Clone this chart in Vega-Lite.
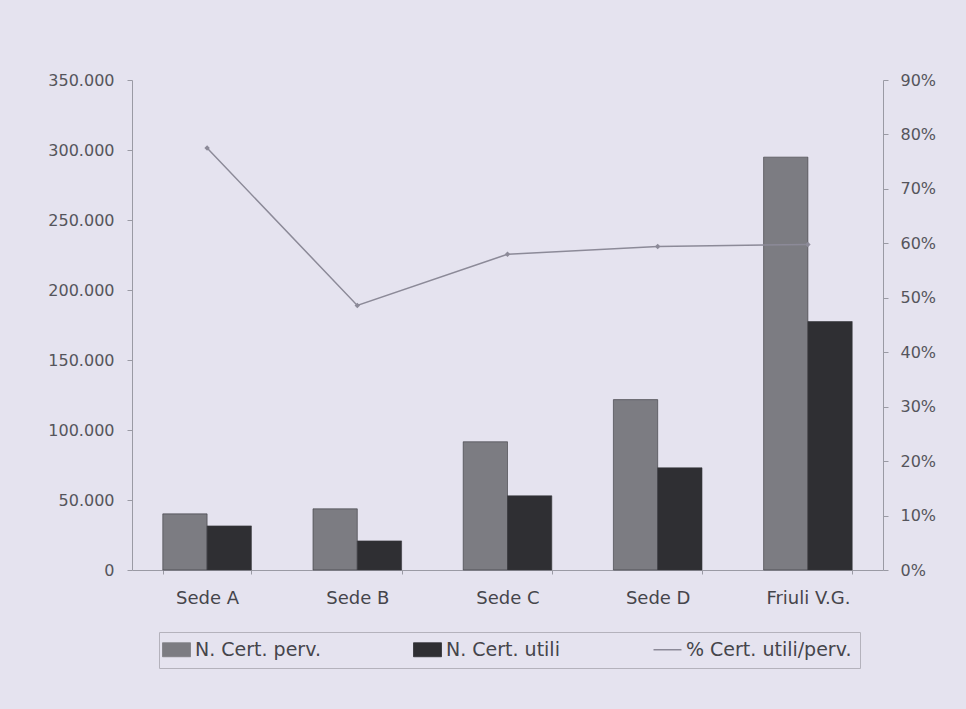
{
  "$schema": "https://vega.github.io/schema/vega-lite/v6.json",
  "width": 751,
  "height": 490,
  "autosize": {"type": "none"},
  "padding": {"left": 132, "top": 80, "right": 83, "bottom": 139},
  "background": "#e5e3ef",
  "config": {
    "view": {"stroke": null},
    "font": "DejaVu Sans",
    "axis": {
      "grid": false,
      "labelFont": "DejaVu Sans",
      "labelFontSize": 16,
      "labelColor": "#55555c",
      "domainColor": "#9a9aa4",
      "tickColor": "#9a9aa4",
      "title": null
    }
  },
  "datasets": {
    "bars": [
      {"sede": "Sede A", "serie": "N. Cert. perv.", "valore": 40100},
      {"sede": "Sede A", "serie": "N. Cert. utili", "valore": 31500},
      {"sede": "Sede B", "serie": "N. Cert. perv.", "valore": 43700},
      {"sede": "Sede B", "serie": "N. Cert. utili", "valore": 20800},
      {"sede": "Sede C", "serie": "N. Cert. perv.", "valore": 91600},
      {"sede": "Sede C", "serie": "N. Cert. utili", "valore": 53000},
      {"sede": "Sede D", "serie": "N. Cert. perv.", "valore": 121700},
      {"sede": "Sede D", "serie": "N. Cert. utili", "valore": 73000},
      {"sede": "Friuli V.G.", "serie": "N. Cert. perv.", "valore": 294900},
      {"sede": "Friuli V.G.", "serie": "N. Cert. utili", "valore": 177500}
    ],
    "pct": [
      {"sede": "Sede A", "pct": 0.775},
      {"sede": "Sede B", "pct": 0.486},
      {"sede": "Sede C", "pct": 0.58},
      {"sede": "Sede D", "pct": 0.594},
      {"sede": "Friuli V.G.", "pct": 0.598}
    ]
  },
  "layer": [
    {
      "data": {"name": "bars"},
      "mark": {"type": "bar", "stroke": "#38383c", "strokeWidth": 0.6},
      "encoding": {
        "x": {
          "field": "sede",
          "type": "nominal",
          "sort": ["Sede A", "Sede B", "Sede C", "Sede D", "Friuli V.G."],
          "scale": {"paddingInner": 0.41, "paddingOuter": 0.205},
          "axis": {
            "labelAngle": 0,
            "labelFontSize": 18,
            "labelColor": "#45454b",
            "labelPadding": 15,
            "ticks": true,
            "tickBand": "extent",
            "tickSize": 4
          }
        },
        "xOffset": {"field": "serie", "sort": ["N. Cert. perv.", "N. Cert. utili"]},
        "y": {
          "field": "valore",
          "type": "quantitative",
          "scale": {"domain": [0, 350000], "nice": false},
          "axis": {
            "values": [0, 50000, 100000, 150000, 200000, 250000, 300000, 350000],
            "labelExpr": "replace(format(datum.value, ','), ',', '.')",
            "tickSize": 5,
            "labelPadding": 13
          }
        },
        "color": {
          "field": "serie",
          "type": "nominal",
          "scale": {
            "domain": ["N. Cert. perv.", "N. Cert. utili", "% Cert. utili/perv."],
            "range": ["#7c7c82", "#2f2f33", "#8c8a98"]
          },
          "legend": {
            "orient": "none",
            "legendX": 27,
            "legendY": 552,
            "direction": "horizontal",
            "title": null,
            "columns": 3,
            "columnPadding": 90,
            "labelFont": "DejaVu Sans",
            "labelFontSize": 19,
            "labelColor": "#45454b",
            "labelLimit": 300,
            "labelOffset": 9,
            "symbolSize": 784,
            "symbolStrokeColor": "#38383c",
            "symbolStrokeWidth": 0.8,
            "strokeColor": "#b4b2bc",
            "padding": 8,
            "symbolType": "M-1,-0.5H1V0.5H-1Z",
            "encode": {
              "symbols": {
                "update": {
                  "shape": {"signal": "datum.value === '% Cert. utili/perv.' ? 'stroke' : 'M-1,-0.5H1V0.5H-1Z'"},
                  "strokeWidth": {"signal": "datum.value === '% Cert. utili/perv.' ? 1.5 : 0.8"},
                  "stroke": {"signal": "datum.value === '% Cert. utili/perv.' ? '#8c8a98' : '#38383c'"}
                }
              }
            }
          }
        }
      }
    },
    {
      "data": {"name": "pct"},
      "mark": {
        "type": "line",
        "strokeWidth": 1.5,
        "point": {"shape": "diamond", "size": 30, "filled": true, "color": "#76747e"}
      },
      "encoding": {
        "x": {"field": "sede", "type": "nominal", "sort": ["Sede A", "Sede B", "Sede C", "Sede D", "Friuli V.G."]},
        "y": {
          "field": "pct",
          "type": "quantitative",
          "scale": {"domain": [0, 0.9], "nice": false},
          "axis": {
            "orient": "right",
            "values": [0, 0.1, 0.2, 0.3, 0.4, 0.5, 0.6, 0.7, 0.8, 0.9],
            "format": ".0%",
            "tickSize": 5,
            "labelPadding": 12
          }
        },
        "color": {"datum": "% Cert. utili/perv."}
      }
    }
  ],
  "resolve": {"scale": {"y": "independent"}}
}
